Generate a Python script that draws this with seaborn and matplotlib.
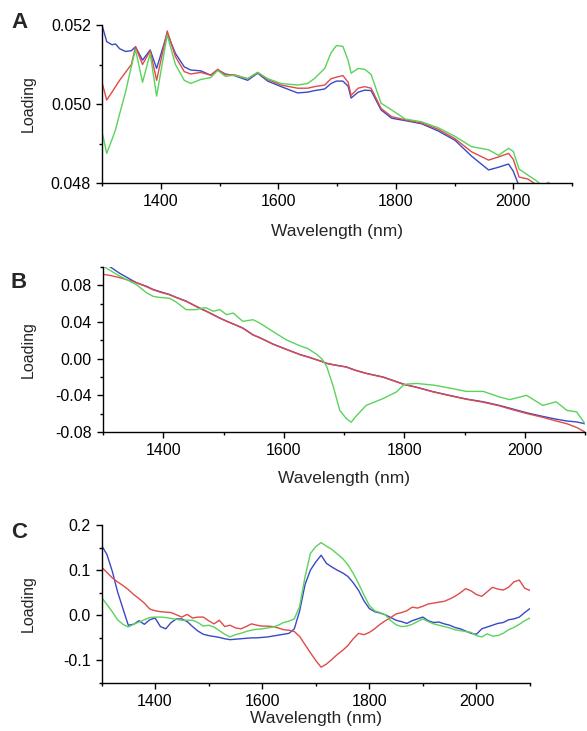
import numpy as np
import pandas as pd
import matplotlib
matplotlib.use("Agg")
import matplotlib.pyplot as plt
import seaborn as sns
from matplotlib.ticker import MultipleLocator, FormatStrFormatter


# DATA

wl_a = [1300, 1308, 1317, 1323, 1330, 1340, 1350, 1357, 1369, 1382, 1393, 1411,
        1425, 1440, 1451, 1468, 1485, 1497, 1510, 1525, 1548, 1565, 1582, 1605,
        1633, 1650, 1662, 1679, 1690, 1699, 1710, 1719, 1724, 1736, 1747, 1758,
        1775, 1793, 1816, 1844, 1872, 1901, 1929, 1958, 1975, 1992, 2000, 2010,
        2025, 2040, 2050, 2060, 2070]

blue_a = [0.05200, 0.05158, 0.05150, 0.05152, 0.05140, 0.05133, 0.05135, 0.05145,
          0.05111, 0.05137, 0.05090, 0.05179, 0.05128, 0.05094, 0.05086, 0.05084,
          0.05073, 0.05086, 0.05076, 0.05072, 0.05060, 0.05078, 0.05058, 0.05044,
          0.05028, 0.05030, 0.05034, 0.05038, 0.05052, 0.05058, 0.05058, 0.05045,
          0.05015, 0.05030, 0.05035, 0.05034, 0.04985, 0.04964, 0.04958, 0.04950,
          0.04932, 0.04908, 0.04868, 0.04833, 0.04840, 0.04848, 0.04830, 0.04792,
          0.04770, 0.04760, 0.04755, 0.04750, 0.04745]

red_a = [0.05055, 0.05010, 0.05030, 0.05044, 0.05060, 0.05080, 0.05100, 0.05145,
         0.05100, 0.05135, 0.05060, 0.05185, 0.05120, 0.05082, 0.05076, 0.05080,
         0.05073, 0.05088, 0.05074, 0.05074, 0.05064, 0.05080, 0.05062, 0.05048,
         0.05040, 0.05040, 0.05044, 0.05048, 0.05064, 0.05068, 0.05072, 0.05055,
         0.05022, 0.05040, 0.05044, 0.05040, 0.04989, 0.04968, 0.04960, 0.04952,
         0.04936, 0.04912, 0.04879, 0.04858, 0.04866, 0.04875, 0.04860, 0.04815,
         0.04810, 0.04795, 0.04780, 0.04770, 0.04760]

green_a = [0.04930, 0.04875, 0.04910, 0.04935, 0.04975, 0.05030, 0.05095, 0.05138,
           0.05055, 0.05128, 0.05020, 0.05175, 0.05100, 0.05060, 0.05052, 0.05062,
           0.05067, 0.05085, 0.05070, 0.05073, 0.05064, 0.05080, 0.05064, 0.05052,
           0.05048, 0.05052, 0.05065, 0.05090, 0.05130, 0.05148, 0.05146, 0.05110,
           0.05078, 0.05090, 0.05088, 0.05075, 0.05002, 0.04985, 0.04962, 0.04955,
           0.04940, 0.04918, 0.04892, 0.04884, 0.04870, 0.04888, 0.04880, 0.04835,
           0.04820, 0.04805, 0.04792, 0.04802, 0.04780]

wl_b = [1300, 1310, 1328, 1355, 1372, 1383, 1395, 1410, 1421, 1438, 1455, 1466,
        1471, 1483, 1494, 1505, 1516, 1532, 1549, 1560, 1582, 1604, 1627, 1640,
        1654, 1663, 1671, 1682, 1693, 1704, 1712, 1721, 1737, 1765, 1787, 1800,
        1820, 1848, 1875, 1903, 1931, 1958, 1975, 2003, 2030, 2052, 2070, 2086,
        2100]

blue_b = [0.104, 0.101, 0.093, 0.083, 0.079, 0.0756, 0.073, 0.0701, 0.067, 0.0628,
          0.057, 0.0535, 0.052, 0.048, 0.0443, 0.041, 0.038, 0.0335, 0.026, 0.023,
          0.016, 0.0103, 0.0045, 0.002, -0.001, -0.003, -0.005, -0.0065, -0.0078,
          -0.009, -0.011, -0.013, -0.016, -0.020, -0.025, -0.028, -0.031, -0.036,
          -0.040, -0.044, -0.047, -0.051, -0.054, -0.059, -0.063, -0.066, -0.068,
          -0.069, -0.071]

red_b = [0.092, 0.091, 0.0884, 0.083, 0.0785, 0.0752, 0.0725, 0.0698, 0.0668,
         0.0625, 0.0568, 0.0532, 0.0518, 0.0478, 0.0441, 0.0408, 0.0378, 0.0332,
         0.0258, 0.0228, 0.0158, 0.0101, 0.0043, 0.0018, -0.0012, -0.0032, -0.0052,
         -0.0067, -0.0080, -0.0092, -0.0112, -0.0132, -0.0162, -0.0203, -0.0253,
         -0.0283, -0.0313, -0.0363, -0.0403, -0.0443, -0.0475, -0.0515, -0.0548,
         -0.0598, -0.064, -0.068, -0.071, -0.075, -0.080]

green_b = [0.101, 0.097, 0.090, 0.081, 0.072, 0.068, 0.0667, 0.066, 0.062, 0.0535,
           0.0535, 0.0553, 0.0555, 0.0517, 0.0535, 0.048, 0.0498, 0.0407, 0.0425,
           0.0389, 0.0297, 0.0206, 0.0140, 0.011, 0.005, 0.0, -0.008, -0.030,
           -0.0564, -0.0655, -0.0693, -0.062, -0.0509, -0.0435, -0.0363, -0.028,
           -0.027, -0.0288, -0.032, -0.0357, -0.0357, -0.0418, -0.0447, -0.040,
           -0.051, -0.047, -0.0564, -0.058, -0.071]

wl_c = list(range(1300, 2101, 10))

blue_c = [0.155, 0.135, 0.098, 0.052, 0.015, -0.022, -0.020, -0.012, -0.020, -0.010,
          -0.006, -0.025, -0.030, -0.016, -0.008, -0.008, -0.014, -0.025, -0.035, -0.042,
          -0.045, -0.047, -0.049, -0.052, -0.054, -0.053, -0.052, -0.051, -0.050, -0.050,
          -0.049, -0.048, -0.046, -0.044, -0.042, -0.040, -0.030, 0.010, 0.068, 0.100,
          0.118, 0.133, 0.115, 0.107, 0.100, 0.094, 0.086, 0.072, 0.055, 0.032,
          0.015, 0.008, 0.005, 0.001, -0.005, -0.011, -0.014, -0.018, -0.012, -0.008,
          -0.004, -0.012, -0.016, -0.015, -0.019, -0.022, -0.027, -0.030, -0.035, -0.040,
          -0.042, -0.030, -0.026, -0.022, -0.018, -0.016, -0.010, -0.008, -0.004, 0.006,
          0.015]

red_c = [0.107, 0.095, 0.083, 0.074, 0.066, 0.057, 0.046, 0.037, 0.027, 0.014,
         0.010, 0.008, 0.007, 0.006, 0.001, -0.004, 0.002, -0.006, -0.004, -0.004,
         -0.012, -0.019, -0.011, -0.025, -0.022, -0.028, -0.030, -0.025, -0.019, -0.022,
         -0.024, -0.024, -0.025, -0.028, -0.032, -0.033, -0.036, -0.047, -0.065, -0.083,
         -0.100, -0.115, -0.108, -0.098, -0.087, -0.078, -0.067, -0.052, -0.040, -0.043,
         -0.038, -0.030, -0.020, -0.012, -0.005, 0.003, 0.006, 0.010, 0.018, 0.016,
         0.020, 0.025, 0.027, 0.029, 0.031, 0.036, 0.042, 0.050, 0.059, 0.054,
         0.046, 0.042, 0.052, 0.062, 0.058, 0.056, 0.062, 0.074, 0.078, 0.060,
         0.055]

green_c = [0.040, 0.024, 0.008, -0.010, -0.020, -0.026, -0.020, -0.015, -0.010, -0.005,
           -0.004, -0.004, -0.005, -0.007, -0.009, -0.011, -0.011, -0.011, -0.016, -0.024,
           -0.022, -0.026, -0.034, -0.042, -0.048, -0.043, -0.040, -0.036, -0.033, -0.031,
           -0.030, -0.028, -0.026, -0.022, -0.016, -0.013, -0.008, 0.020, 0.085, 0.137,
           0.152, 0.161, 0.153, 0.146, 0.136, 0.126, 0.112, 0.093, 0.070, 0.045,
           0.022, 0.010, 0.006, 0.001, -0.012, -0.021, -0.025, -0.024, -0.020, -0.014,
           -0.008, -0.014, -0.019, -0.022, -0.025, -0.028, -0.032, -0.034, -0.036, -0.038,
           -0.045, -0.048, -0.041, -0.046, -0.045, -0.040, -0.032, -0.027, -0.020, -0.012,
           -0.006]

BLUE = '#3a48c8'
RED = '#e04a4a'
GREEN = '#5ad35a'

sns.set_style('ticks')
plt.rcParams['font.family'] = ['Liberation Sans', 'DejaVu Sans']
plt.rcParams['axes.unicode_minus'] = False

fig = plt.figure(figsize=(5.87, 7.31), dpi=100)

# axes rectangles in figure fractions (from pixel positions)
ax_a = fig.add_axes([102 / 587, 1 - 183 / 731, 470 / 587, 158 / 731])
ax_b = fig.add_axes([103 / 587, 1 - 432 / 731, 482 / 587, 165 / 731])
ax_c = fig.add_axes([101.5 / 587, 1 - 683 / 731, 428.5 / 587, 158 / 731])

panels = [
    (ax_a, wl_a, blue_a, red_a, green_a),
    (ax_b, wl_b, blue_b, red_b, green_b),
    (ax_c, wl_c, blue_c, red_c, green_c),
]

for ax, wl, b, r, g in panels:
    sns.lineplot(x=wl, y=b, color=BLUE, lw=1.0, ax=ax)
    sns.lineplot(x=wl, y=r, color=RED, lw=1.0, ax=ax)
    sns.lineplot(x=wl, y=g, color=GREEN, lw=1.0, ax=ax)

    ax.set_xlim(1300, 2100)
    ax.xaxis.set_major_locator(MultipleLocator(200))
    ax.xaxis.set_minor_locator(MultipleLocator(100))

    sns.despine(ax=ax)
    for side in ['left', 'bottom']:
        ax.spines[side].set_linewidth(1.0)
        ax.spines[side].set_color('black')

    ax.tick_params(which='major', direction='out', length=4, width=1,
                   labelsize=11.5, colors='black', pad=4)
    ax.tick_params(which='minor', direction='out', length=2.5, width=1,
                   colors='black')
    ax.set_ylabel('Loading', fontsize=11.5)

# panel A
ax_a.set_ylim(0.048, 0.052)
ax_a.yaxis.set_major_locator(MultipleLocator(0.002))
ax_a.yaxis.set_minor_locator(MultipleLocator(0.001))
ax_a.yaxis.set_major_formatter(FormatStrFormatter('%.3f'))
ax_a.set_xlabel('Wavelength (nm)', fontsize=12.5, labelpad=11)

# panel B
ax_b.set_ylim(-0.08, 0.10)
ax_b.yaxis.set_major_locator(MultipleLocator(0.04))
ax_b.yaxis.set_minor_locator(MultipleLocator(0.02))
ax_b.yaxis.set_major_formatter(FormatStrFormatter('%.2f'))
ax_b.set_xlabel('Wavelength (nm)', fontsize=12.5, labelpad=9)

# panel C
ax_c.set_ylim(-0.15, 0.2)
ax_c.yaxis.set_major_locator(MultipleLocator(0.1))
ax_c.yaxis.set_minor_locator(MultipleLocator(0.05))
ax_c.yaxis.set_major_formatter(FormatStrFormatter('%.1f'))
ax_c.set_xlabel('Wavelength (nm)', fontsize=12.5, labelpad=1)

for ax in [ax_a, ax_b, ax_c]:
    pos = ax.get_position()
    ax.yaxis.set_label_coords((36 / 587 - pos.x0) / pos.width, 0.5)

# panel letters
for letter, ypx in [('A', 23), ('B', 283), ('C', 533)]:
    fig.text(19 / 587, 1 - ypx / 731, letter, fontsize=16, fontweight='bold',
             ha='center', va='center')

fig.savefig('out.png', dpi=100)
